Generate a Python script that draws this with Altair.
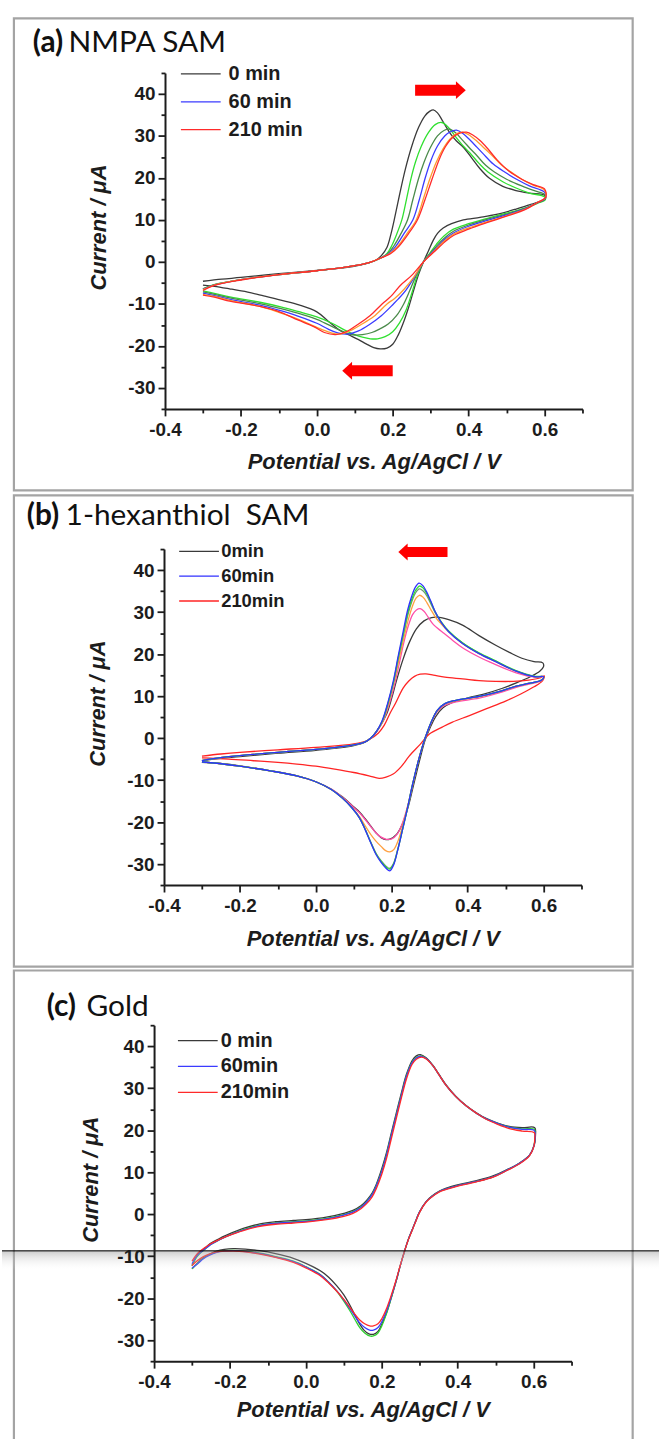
import altair as alt
import pandas as pd

# ---------------- axes ----------------
X_DOMAIN = [-0.4, 0.7]
Y_DOMAIN = [-35, 45]
X_TICKS = [-0.4, -0.3, -0.2, -0.1, 0.0, 0.1, 0.2, 0.3, 0.4, 0.5, 0.6, 0.7]
Y_TICKS = [-35, -30, -25, -20, -15, -10, -5, 0, 5, 10, 15, 20, 25, 30, 35, 40, 45]
X_TITLE = "Potential vs. Ag/AgCl / V"
Y_TITLE = "Current / \u03bcA"

# ---------------- panel (a) NMPA SAM : (E / V, I / uA) ----------------
A_NAMES = ["0 min", "trace 2", "trace 3", "60 min", "trace 5", "210 min"]
A_COLORS = ["#3a3a3a", "#2fe02f", "#4a8a4a", "#3b3bff", "#ff9a2e", "#ff2a2a"]
A_0 = [(-0.3,-4.6),(-0.25,-4.1),(-0.2,-3.7),(-0.1,-2.8),(0.0,-2.0),(0.08,-1.3),(0.13,-0.4),(0.155,0.4),(0.17,1.5),(0.185,3.5),(0.195,6.5),(0.204,10.0),(0.218,16.0),(0.233,22.0),(0.25,27.5),(0.268,32.0),(0.285,34.8),(0.298,35.9),(0.307,36.2),(0.318,35.5),(0.332,33.5),(0.35,30.8),(0.368,28.8),(0.386,27.3),(0.408,24.8),(0.429,22.3),(0.455,19.9),(0.49,18.0),(0.525,17.0),(0.56,16.4),(0.6,15.9),
       (0.602,15.0),(0.585,14.3),(0.56,13.6),(0.525,12.6),(0.473,11.3),(0.43,10.6),(0.386,10.0),(0.355,9.1),(0.333,8.1),(0.318,6.8),(0.307,5.2),(0.294,2.6),(0.281,0.0),(0.268,-3.0),(0.256,-6.5),(0.243,-10.5),(0.23,-14.0),(0.215,-17.3),(0.2,-19.6),(0.185,-20.5),(0.167,-20.7),(0.15,-20.4),(0.13,-19.5),(0.11,-18.5),(0.085,-17.4),(0.062,-16.4),(0.03,-14.1),(0.0,-11.9),(-0.045,-10.3),(-0.095,-9.1),(-0.14,-8.1),(-0.182,-7.2),(-0.23,-6.4),(-0.27,-5.8),(-0.3,-5.5)]
A_2 = [(-0.3,-6.4),(-0.27,-5.4),(-0.2,-4.2),(-0.1,-3.0),(0.0,-2.1),(0.08,-1.2),(0.14,-0.1),(0.17,1.0),(0.185,2.0),(0.197,3.8),(0.21,6.5),(0.224,10.0),(0.236,14.8),(0.248,19.8),(0.26,23.8),(0.275,27.5),(0.294,30.8),(0.312,32.7),(0.329,33.2),(0.345,32.2),(0.365,29.9),(0.385,27.7),(0.403,26.0),(0.428,23.4),(0.451,21.4),(0.49,19.1),(0.525,17.6),(0.56,16.4),(0.6,15.5),
       (0.602,14.8),(0.58,13.9),(0.55,12.9),(0.5,11.6),(0.45,10.4),(0.4,9.1),(0.36,7.8),(0.335,6.2),(0.315,4.2),(0.297,2.0),(0.281,0.0),(0.265,-3.2),(0.25,-7.5),(0.235,-11.5),(0.218,-14.5),(0.2,-16.6),(0.18,-17.8),(0.16,-18.3),(0.141,-18.3),(0.12,-17.9),(0.1,-17.3),(0.075,-16.3),(0.04,-14.6),(0.0,-13.1),(-0.05,-11.8),(-0.095,-10.7),(-0.15,-9.6),(-0.226,-8.4),(-0.27,-7.5),(-0.3,-6.9)]
A_3 = [(-0.3,-6.4),(-0.27,-5.4),(-0.2,-4.2),(-0.1,-3.0),(0.0,-2.1),(0.08,-1.2),(0.14,-0.1),(0.17,1.0),(0.188,2.0),(0.203,3.8),(0.222,6.8),(0.239,10.0),(0.253,14.8),(0.268,19.8),(0.282,23.6),(0.298,27.0),(0.318,30.0),(0.335,31.3),(0.349,31.6),(0.365,30.8),(0.385,28.9),(0.405,26.9),(0.421,25.4),(0.445,23.0),(0.468,21.4),(0.5,19.7),(0.54,18.1),(0.575,16.9),(0.6,16.1),
       (0.602,15.0),(0.58,14.0),(0.55,12.8),(0.5,11.4),(0.45,10.2),(0.4,8.8),(0.36,7.3),(0.335,5.6),(0.315,3.7),(0.297,1.8),(0.281,0.0),(0.262,-3.2),(0.245,-6.8),(0.229,-10.0),(0.21,-12.8),(0.188,-14.8),(0.167,-15.9),(0.145,-16.8),(0.12,-17.3),(0.1,-17.4),(0.08,-17.0),(0.05,-15.8),(0.02,-14.5),(0.0,-13.7),(-0.05,-12.2),(-0.1,-11.0),(-0.15,-9.9),(-0.226,-8.6),(-0.27,-7.7),(-0.3,-7.1)]
A_60 = [(-0.3,-6.5),(-0.27,-5.5),(-0.2,-4.2),(-0.1,-3.0),(0.0,-2.1),(0.08,-1.2),(0.14,-0.1),(0.17,1.0),(0.19,2.0),(0.207,3.6),(0.23,6.8),(0.253,10.0),(0.27,14.8),(0.285,19.8),(0.3,24.0),(0.318,27.6),(0.337,30.0),(0.352,31.0),(0.368,31.4),(0.385,30.6),(0.405,28.9),(0.42,27.5),(0.438,25.8),(0.465,23.3),(0.495,21.4),(0.53,19.5),(0.56,18.1),(0.6,16.6),
        (0.602,15.2),(0.58,14.1),(0.55,12.7),(0.5,11.2),(0.45,9.9),(0.4,8.5),(0.36,6.9),(0.335,5.2),(0.315,3.3),(0.297,1.6),(0.281,0.0),(0.258,-3.5),(0.235,-6.7),(0.215,-8.8),(0.202,-10.0),(0.17,-12.8),(0.137,-15.0),(0.11,-16.4),(0.08,-17.2),(0.055,-16.9),(0.03,-16.0),(0.0,-14.6),(-0.05,-12.9),(-0.1,-11.5),(-0.15,-10.3),(-0.226,-9.0),(-0.27,-8.0),(-0.3,-7.4)]
A_5 = [(-0.3,-6.6),(-0.27,-5.5),(-0.2,-4.2),(-0.1,-3.0),(0.0,-2.1),(0.08,-1.2),(0.14,-0.1),(0.17,1.0),(0.192,2.0),(0.212,3.6),(0.238,6.8),(0.262,10.0),(0.28,14.8),(0.298,19.8),(0.315,23.8),(0.333,27.0),(0.35,29.2),(0.367,30.5),(0.384,30.9),(0.4,30.3),(0.42,28.9),(0.44,27.2),(0.46,25.5),(0.485,23.2),(0.51,21.5),(0.54,19.7),(0.57,18.3),(0.6,17.1),
       (0.602,15.3),(0.58,14.1),(0.55,12.6),(0.5,11.0),(0.45,9.6),(0.4,8.1),(0.36,6.6),(0.335,4.9),(0.315,3.1),(0.297,1.5),(0.281,0.0),(0.255,-3.7),(0.23,-6.5),(0.205,-8.7),(0.185,-10.0),(0.15,-13.0),(0.115,-15.0),(0.085,-16.5),(0.06,-17.2),(0.035,-16.8),(0.0,-15.6),(-0.05,-13.6),(-0.1,-12.0),(-0.15,-10.6),(-0.226,-9.2),(-0.27,-8.2),(-0.3,-7.7)]
A_210 = [(-0.3,-6.8),(-0.27,-5.6),(-0.2,-4.3),(-0.1,-3.0),(0.0,-2.1),(0.08,-1.2),(0.14,-0.1),(0.17,1.0),(0.195,2.0),(0.215,3.6),(0.242,6.8),(0.265,10.0),(0.285,14.8),(0.304,19.8),(0.322,24.3),(0.338,27.3),(0.355,29.4),(0.375,30.6),(0.394,30.9),(0.41,30.3),(0.43,28.9),(0.45,27.0),(0.475,24.3),(0.505,21.7),(0.54,19.7),(0.57,18.4),(0.6,17.4),
         (0.603,15.4),(0.58,14.1),(0.55,12.5),(0.5,10.9),(0.45,9.4),(0.4,7.8),(0.36,6.3),(0.335,4.6),(0.315,2.9),(0.297,1.4),(0.281,0.0),(0.25,-3.2),(0.22,-5.6),(0.195,-8.2),(0.172,-10.0),(0.14,-12.8),(0.106,-15.0),(0.08,-16.5),(0.05,-17.3),(0.02,-16.8),(-0.008,-15.4),(-0.05,-13.8),(-0.095,-12.0),(-0.15,-10.6),(-0.226,-9.4),(-0.27,-8.4),(-0.3,-7.9)]

# ---------------- panel (b) 1-hexanthiol SAM ----------------
B_NAMES = ["0min", "210min", "trace 6", "trace 5", "trace 4", "trace 3", "60min"]
B_COLORS = ["#3a3a3a", "#ff2424", "#ff4fa8", "#ffa040", "#6f9a6f", "#2fe02f", "#3030ff"]
B_0 = [(-0.3,-5.5),(-0.27,-5.0),(-0.2,-4.4),(-0.1,-3.6),(0.0,-2.9),(0.1,-1.8),(0.13,-1.0),(0.145,0.0),(0.165,2.2),(0.186,5.6),(0.2,9.5),(0.212,13.5),(0.23,18.8),(0.247,22.9),(0.265,26.0),(0.285,27.9),(0.305,28.7),(0.32,28.8),(0.35,28.2),(0.3865,26.9),(0.43,24.4),(0.474,22.1),(0.51,20.4),(0.543,19.0),(0.575,18.2),(0.598,17.9),
       (0.6,17.0),(0.59,15.9),(0.565,14.6),(0.53,13.2),(0.49,11.8),(0.44,10.4),(0.403,9.6),(0.36,8.5),(0.335,7.2),(0.315,5.0),(0.3,2.2),(0.288,-0.5),(0.273,-5.5),(0.258,-11.0),(0.243,-16.5),(0.228,-20.5),(0.212,-23.0),(0.197,-24.0),(0.185,-24.2),(0.172,-23.7),(0.159,-22.6),(0.145,-21.0),(0.13,-19.2),(0.115,-17.6),(0.095,-16.0),(0.07,-14.0),(0.04,-12.2),(0.0,-10.4),(-0.05,-9.0),(-0.12,-7.8),(-0.2,-6.6),(-0.26,-6.0),(-0.3,-5.8)]
B_60 = [(-0.3,-5.4),(-0.27,-4.9),(-0.2,-4.2),(-0.1,-3.4),(0.0,-2.7),(0.1,-1.6),(0.13,-0.9),(0.145,0.0),(0.16,1.6),(0.175,4.2),(0.19,8.5),(0.204,13.5),(0.217,19.5),(0.23,25.3),(0.242,30.5),(0.252,33.6),(0.262,35.9),(0.272,36.9),(0.282,36.3),(0.292,34.8),(0.302,32.8),(0.315,30.0),(0.33,27.6),(0.35,25.3),(0.3865,22.5),(0.43,20.1),(0.474,18.2),(0.526,16.0),(0.578,14.6),(0.6,14.6),
        (0.595,13.8),(0.56,13.0),(0.526,12.3),(0.48,11.0),(0.43,9.9),(0.369,9.0),(0.34,8.2),(0.32,6.6),(0.305,4.0),(0.294,1.5),(0.285,-0.8),(0.27,-5.5),(0.255,-11.0),(0.242,-16.5),(0.228,-22.0),(0.215,-27.0),(0.205,-30.2),(0.195,-31.6),(0.185,-31.0),(0.172,-29.6),(0.159,-27.8),(0.145,-25.0),(0.13,-21.8),(0.115,-19.0),(0.095,-16.6),(0.07,-14.3),(0.04,-12.2),(0.0,-10.4),(-0.05,-9.0),(-0.12,-7.8),(-0.2,-6.7),(-0.26,-6.0),(-0.3,-5.7)]
B_3 = [(-0.3,-5.4),(-0.27,-4.9),(-0.2,-4.2),(-0.1,-3.4),(0.0,-2.7),(0.1,-1.6),(0.13,-0.9),(0.145,0.0),(0.16,1.6),(0.176,4.2),(0.191,8.5),(0.205,13.5),(0.218,19.5),(0.231,25.0),(0.243,30.0),(0.253,33.1),(0.263,35.2),(0.273,36.2),(0.283,35.7),(0.293,34.3),(0.303,32.4),(0.316,29.8),(0.331,27.6),(0.35,25.5),(0.3865,22.7),(0.43,20.3),(0.474,18.4),(0.526,16.1),(0.578,14.7),(0.6,14.6),
       (0.595,13.8),(0.56,13.0),(0.526,12.3),(0.48,11.0),(0.43,9.9),(0.369,9.0),(0.34,8.2),(0.32,6.6),(0.305,4.0),(0.294,1.5),(0.285,-0.8),(0.27,-5.5),(0.255,-11.0),(0.242,-16.5),(0.228,-22.0),(0.215,-26.9),(0.205,-30.0),(0.195,-31.2),(0.185,-30.7),(0.172,-29.4),(0.159,-27.6),(0.145,-24.9),(0.13,-21.7),(0.115,-19.0),(0.095,-16.6),(0.07,-14.3),(0.04,-12.2),(0.0,-10.4),(-0.05,-9.0),(-0.12,-7.8),(-0.2,-6.7),(-0.26,-6.0),(-0.3,-5.7)]
B_4 = [(-0.3,-5.4),(-0.27,-4.9),(-0.2,-4.2),(-0.1,-3.4),(0.0,-2.7),(0.1,-1.6),(0.13,-0.9),(0.145,0.0),(0.16,1.6),(0.176,4.2),(0.191,8.5),(0.205,13.4),(0.218,19.3),(0.231,24.7),(0.243,29.5),(0.253,32.5),(0.263,34.6),(0.273,35.5),(0.283,35.0),(0.293,33.8),(0.303,32.0),(0.316,29.6),(0.331,27.5),(0.35,25.4),(0.3865,22.6),(0.43,20.2),(0.474,18.3),(0.526,16.0),(0.578,14.6),(0.6,14.6),
       (0.595,13.8),(0.56,13.0),(0.526,12.3),(0.48,11.0),(0.43,9.9),(0.369,9.0),(0.34,8.2),(0.32,6.6),(0.305,4.0),(0.294,1.5),(0.285,-0.8),(0.27,-5.5),(0.255,-11.0),(0.242,-16.5),(0.228,-22.0),(0.215,-26.8),(0.205,-29.8),(0.195,-31.0),(0.185,-30.5),(0.172,-29.2),(0.159,-27.5),(0.145,-24.8),(0.13,-21.7),(0.115,-19.0),(0.095,-16.6),(0.07,-14.3),(0.04,-12.2),(0.0,-10.4),(-0.05,-9.0),(-0.12,-7.8),(-0.2,-6.7),(-0.26,-6.0),(-0.3,-5.7)]
B_5 = [(-0.3,-5.4),(-0.27,-4.9),(-0.2,-4.2),(-0.1,-3.4),(0.0,-2.7),(0.1,-1.6),(0.13,-0.9),(0.145,0.0),(0.16,1.6),(0.177,4.2),(0.192,8.4),(0.206,13.3),(0.22,19.0),(0.233,24.2),(0.245,28.6),(0.255,31.5),(0.264,33.3),(0.273,34.0),(0.283,33.5),(0.293,32.2),(0.303,30.6),(0.316,28.7),(0.331,27.1),(0.35,25.3),(0.3865,22.5),(0.43,20.1),(0.474,18.2),(0.526,16.0),(0.578,14.6),(0.6,14.6),
       (0.595,13.8),(0.56,13.0),(0.526,12.3),(0.48,11.0),(0.43,9.8),(0.369,8.9),(0.34,8.1),(0.32,6.5),(0.305,3.9),(0.294,1.4),(0.285,-0.8),(0.27,-5.5),(0.256,-10.8),(0.243,-16.0),(0.23,-20.5),(0.217,-24.4),(0.206,-26.5),(0.195,-27.1),(0.184,-26.8),(0.172,-25.8),(0.159,-24.6),(0.145,-23.0),(0.13,-20.9),(0.115,-18.7),(0.095,-16.5),(0.07,-14.3),(0.04,-12.2),(0.0,-10.4),(-0.05,-9.0),(-0.12,-7.8),(-0.2,-6.7),(-0.26,-6.0),(-0.3,-5.7)]
B_6 = [(-0.3,-5.4),(-0.27,-4.9),(-0.2,-4.2),(-0.1,-3.4),(0.0,-2.7),(0.1,-1.6),(0.13,-0.9),(0.145,0.0),(0.161,1.6),(0.178,4.2),(0.193,8.0),(0.207,12.6),(0.22,17.8),(0.232,22.8),(0.244,26.8),(0.255,29.4),(0.265,30.5),(0.275,30.8),(0.285,30.2),(0.296,28.8),(0.31,27.0),(0.334,25.2),(0.36,23.3),(0.3865,21.5),(0.43,19.3),(0.474,17.5),(0.526,15.6),(0.578,14.5),(0.6,14.6),
       (0.595,13.7),(0.56,12.8),(0.526,12.0),(0.48,10.7),(0.43,9.5),(0.369,8.6),(0.34,7.8),(0.32,6.3),(0.305,3.8),(0.294,1.4),(0.285,-0.8),(0.27,-5.5),(0.257,-10.5),(0.244,-15.5),(0.23,-19.8),(0.215,-22.8),(0.2,-24.0),(0.186,-24.1),(0.172,-23.6),(0.159,-22.6),(0.145,-21.1),(0.13,-19.4),(0.115,-17.8),(0.095,-16.1),(0.07,-14.1),(0.04,-12.1),(0.0,-10.4),(-0.05,-9.0),(-0.12,-7.8),(-0.2,-6.7),(-0.26,-6.0),(-0.3,-5.7)]
B_210 = [(-0.3,-4.3),(-0.25,-3.8),(-0.2,-3.4),(-0.1,-2.8),(0.0,-2.2),(0.1,-1.4),(0.14,-0.4),(0.165,1.2),(0.18,3.0),(0.195,5.8),(0.21,8.3),(0.23,11.9),(0.245,13.6),(0.26,14.7),(0.275,15.2),(0.29,15.3),(0.31,15.0),(0.34,14.5),(0.387,14.1),(0.43,13.7),(0.474,13.5),(0.52,13.5),(0.561,13.8),(0.59,14.3),(0.602,14.8),
         (0.597,13.6),(0.575,12.2),(0.54,10.5),(0.5,8.8),(0.45,7.0),(0.403,5.3),(0.36,3.8),(0.333,2.6),(0.3,1.0),(0.275,-1.5),(0.246,-4.3),(0.225,-6.8),(0.205,-8.5),(0.185,-9.3),(0.167,-9.6),(0.14,-9.0),(0.1,-8.2),(0.05,-7.4),(0.0,-6.7),(-0.05,-6.2),(-0.1,-5.8),(-0.164,-5.4),(-0.23,-5.0),(-0.3,-4.7)]

# ---------------- panel (c) Gold ----------------
C_NAMES = ["0 min", "trace 2", "60min", "210min"]
C_COLORS = ["#3a3a3a", "#2fd02f", "#3b3bff", "#ff2a2a"]
C_0 = [(-0.3,-12.3),(-0.285,-9.6),(-0.265,-8.0),(-0.252,-7.0),(-0.23,-5.9),(-0.209,-5.0),(-0.165,-3.4),(-0.121,-2.3),(-0.08,-1.8),(-0.033,-1.5),(0.0,-1.3),(0.054,-0.7),(0.1,0.2),(0.124,0.9),(0.145,2.0),(0.16,3.3),(0.175,5.1),(0.186,7.2),(0.2,10.8),(0.212,14.5),(0.225,19.3),(0.238,24.0),(0.252,29.0),(0.265,33.3),(0.28,36.6),(0.291,37.7),(0.302,38.0),(0.316,37.3),(0.335,35.4),(0.35,33.4),(0.37,30.7),(0.395,28.1),(0.422,25.9),(0.45,24.1),(0.475,22.8),(0.505,21.7),(0.536,20.9),(0.57,20.6),(0.603,20.6),
       (0.605,18.8),(0.602,16.5),(0.59,14.1),(0.563,12.2),(0.53,10.6),(0.493,9.1),(0.45,8.0),(0.405,7.1),(0.37,6.2),(0.352,5.5),(0.332,4.3),(0.317,3.0),(0.3,0.6),(0.29,-1.5),(0.282,-3.3),(0.27,-6.0),(0.26,-8.8),(0.248,-12.5),(0.238,-15.9),(0.225,-19.9),(0.212,-23.6),(0.2,-26.2),(0.19,-27.9),(0.178,-28.6),(0.166,-28.5),(0.153,-27.6),(0.14,-25.9),(0.128,-23.8),(0.115,-21.5),(0.1,-19.2),(0.081,-17.0),(0.06,-15.0),(0.037,-13.4),(0.0,-11.7),(-0.033,-10.5),(-0.08,-9.4),(-0.121,-8.7),(-0.16,-8.3),(-0.191,-8.2),(-0.215,-8.4),(-0.235,-8.8),(-0.255,-9.6),(-0.27,-10.4),(-0.285,-11.6),(-0.3,-13.0)]
C_2 = [(-0.3,-12.2),(-0.285,-9.9),(-0.265,-8.3),(-0.252,-7.3),(-0.23,-6.2),(-0.209,-5.3),(-0.165,-3.7),(-0.121,-2.6),(-0.08,-2.1),(-0.033,-1.8),(0.0,-1.6),(0.054,-1.0),(0.1,-0.1),(0.124,0.6),(0.145,1.7),(0.16,3.0),(0.175,4.8),(0.186,6.9),(0.2,10.3),(0.212,14.0),(0.225,18.8),(0.238,23.5),(0.252,28.5),(0.265,32.9),(0.28,36.2),(0.291,37.3),(0.304,37.7),(0.318,37.0),(0.335,35.3),(0.35,33.3),(0.37,30.6),(0.395,28.0),(0.422,25.8),(0.45,24.0),(0.475,22.7),(0.505,21.6),(0.536,20.7),(0.57,20.3),(0.602,20.2),
       (0.604,18.5),(0.601,16.4),(0.589,14.0),(0.563,12.1),(0.53,10.5),(0.493,8.9),(0.45,7.8),(0.405,6.9),(0.37,6.0),(0.352,5.4),(0.332,4.2),(0.317,3.0),(0.3,0.6),(0.29,-1.5),(0.282,-3.3),(0.27,-6.0),(0.26,-8.8),(0.248,-12.5),(0.238,-15.9),(0.225,-19.9),(0.212,-23.8),(0.2,-26.6),(0.19,-28.3),(0.178,-29.0),(0.168,-29.0),(0.155,-28.3),(0.142,-27.0),(0.13,-25.2),(0.116,-23.0),(0.1,-20.7),(0.081,-18.3),(0.06,-16.2),(0.037,-14.3),(0.0,-12.5),(-0.033,-11.2),(-0.08,-10.1),(-0.121,-9.3),(-0.16,-8.8),(-0.191,-8.6),(-0.215,-8.7),(-0.235,-9.0),(-0.255,-9.7),(-0.27,-10.5),(-0.285,-11.7),(-0.3,-13.0)]
C_60 = [(-0.3,-11.8),(-0.285,-9.7),(-0.265,-8.2),(-0.252,-7.3),(-0.23,-6.2),(-0.209,-5.3),(-0.165,-3.8),(-0.121,-2.7),(-0.08,-2.2),(-0.033,-1.9),(0.0,-1.7),(0.054,-1.1),(0.1,-0.2),(0.124,0.5),(0.145,1.6),(0.16,2.9),(0.175,4.7),(0.186,6.8),(0.2,10.2),(0.212,13.9),(0.225,18.7),(0.238,23.4),(0.252,28.4),(0.265,32.8),(0.28,36.1),(0.291,37.2),(0.304,37.6),(0.318,37.0),(0.335,35.3),(0.35,33.3),(0.37,30.6),(0.395,28.0),(0.422,25.8),(0.45,24.0),(0.475,22.7),(0.505,21.6),(0.536,20.7),(0.57,20.2),(0.602,19.9),
        (0.604,18.3),(0.601,16.3),(0.589,14.0),(0.563,12.1),(0.53,10.5),(0.493,8.9),(0.45,7.8),(0.405,6.9),(0.37,6.0),(0.352,5.4),(0.332,4.2),(0.317,3.0),(0.3,0.6),(0.29,-1.5),(0.282,-3.3),(0.27,-6.0),(0.26,-8.8),(0.248,-12.5),(0.238,-15.8),(0.225,-19.7),(0.212,-23.2),(0.2,-25.6),(0.19,-27.0),(0.178,-27.6),(0.168,-27.6),(0.155,-27.0),(0.142,-25.9),(0.13,-24.4),(0.116,-22.5),(0.1,-20.4),(0.081,-18.2),(0.06,-16.2),(0.037,-14.4),(0.0,-12.6),(-0.033,-11.3),(-0.08,-10.2),(-0.121,-9.4),(-0.16,-8.9),(-0.191,-8.7),(-0.215,-8.8),(-0.235,-9.1),(-0.255,-9.8),(-0.27,-10.6),(-0.285,-11.8),(-0.3,-12.8)]
C_210 = [(-0.3,-11.2),(-0.285,-9.3),(-0.265,-7.9),(-0.252,-7.1),(-0.23,-6.1),(-0.209,-5.3),(-0.165,-3.9),(-0.121,-2.9),(-0.08,-2.4),(-0.033,-2.1),(0.0,-1.9),(0.054,-1.3),(0.1,-0.5),(0.124,0.2),(0.145,1.3),(0.16,2.5),(0.175,4.2),(0.186,6.2),(0.2,9.5),(0.212,13.1),(0.225,17.9),(0.238,22.7),(0.252,27.8),(0.265,32.2),(0.28,35.7),(0.291,36.9),(0.305,37.4),(0.318,36.9),(0.335,35.3),(0.35,33.3),(0.37,30.6),(0.395,28.0),(0.422,25.8),(0.45,24.0),(0.475,22.6),(0.505,21.4),(0.536,20.4),(0.57,19.8),(0.602,19.4),
         (0.603,18.0),(0.601,16.2),(0.589,13.9),(0.563,12.0),(0.53,10.4),(0.493,8.8),(0.45,7.7),(0.405,6.8),(0.37,5.9),(0.352,5.3),(0.332,4.1),(0.317,2.9),(0.3,0.5),(0.29,-1.6),(0.282,-3.4),(0.27,-6.1),(0.26,-8.8),(0.248,-12.4),(0.238,-15.6),(0.225,-19.3),(0.212,-22.6),(0.2,-24.9),(0.19,-26.1),(0.178,-26.6),(0.168,-26.6),(0.155,-26.1),(0.142,-25.2),(0.13,-23.9),(0.116,-22.2),(0.1,-20.3),(0.081,-18.3),(0.06,-16.4),(0.037,-14.6),(0.0,-12.8),(-0.033,-11.5),(-0.08,-10.3),(-0.121,-9.5),(-0.16,-9.0),(-0.191,-8.8),(-0.215,-8.8),(-0.235,-9.0),(-0.255,-9.5),(-0.27,-10.1),(-0.285,-11.0),(-0.3,-12.2)]

# ---------------- annotation arrows (E / V, I / uA) ----------------
ARROWS_A = [{"x0": 0.259, "x1": 0.372, "tip": 0.3795, "y": 40.9, "dir": "right"},
            {"x0": 0.087, "x1": 0.200, "tip": 0.0800, "y": -25.9, "dir": "left"}]
ARROWS_B = [{"x0": 0.236, "x1": 0.347, "tip": 0.2297, "y": 44.3, "dir": "left"}]

# ---------------- styling ----------------
W, H = 420, 338
FONT = "Liberation Sans"
TFONT = "Lato"
INK = "#1c1c1c"
RED = "#ff0000"
BOX = "#a4a4a4"
X_MAJOR = "abs(round(datum.value * 10)) % 2 == 0"
Y_MAJOR = "datum.value % 10 == 0"
X_LABELS = X_MAJOR + " ? (datum.value < 0 ? '-' : '') + format(abs(datum.value), '.1f') : ''"
Y_LABELS = Y_MAJOR + " ? (datum.value < 0 ? '-' : '') + abs(datum.value) : ''"
HEAD_R = "M-0.55,-1L0.55,0L-0.55,1Z"
HEAD_L = "M0.55,-1L-0.55,0L0.55,1Z"
ONE = pd.DataFrame({"k": [0]})


def curves_df(names, curves):
    rows = []
    for name, pts in zip(names, curves):
        for i, (e, c) in enumerate(pts):
            rows.append({"series": name, "E": e, "I": c, "k": i})
    return pd.DataFrame(rows)


def panel(df, names, colors, widths, leg_vals, leg, xoff, xt, yt, titles, box, arrows,
          head_size=324, body_w=11, background=False, artifact=False):
    xs = alt.Scale(domain=X_DOMAIN, range=[xoff, W + xoff], nice=False, zero=False)
    ys = alt.Scale(domain=Y_DOMAIN, nice=False, zero=False)
    common = dict(domainColor=INK, domainWidth=2, tickColor=INK, tickWidth=1.8, grid=False,
                  labelFont=FONT, labelFontWeight="bold", labelFontSize=19, labelColor=INK,
                  labelOverlap=False, titleFont=FONT, titleFontWeight="bold", titleFontStyle="italic",
                  titleFontSize=22, titleColor=INK, titleAlign="center", titleBaseline="middle", zindex=1)
    xaxis = alt.Axis(values=X_TICKS, labelExpr=X_LABELS, labelFlush=False, labelPadding=5,
                     tickSize={"condition": {"test": X_MAJOR, "value": 7}, "value": 4},
                     title=X_TITLE, titleX=xt[0], titleY=xt[1], **common)
    yaxis = alt.Axis(values=Y_TICKS, labelExpr=Y_LABELS, labelPadding=3, offset=-xoff,
                     tickSize={"condition": {"test": Y_MAJOR, "value": 7}, "value": 4},
                     title=Y_TITLE, titleX=yt[0], titleY=yt[1], titleAngle=270, **common)
    layers = []
    if background:
        layers.append(alt.Chart(ONE).mark_rect(fill="white").encode(
            x=alt.value(-164), x2=alt.value(497), y=alt.value(-68), y2=alt.value(1371)))
    layers.append(alt.Chart(ONE).mark_rect(fill="transparent", stroke=BOX, strokeWidth=2.2).encode(
        x=alt.value(box[0]), x2=alt.value(box[1]), y=alt.value(box[2]), y2=alt.value(box[3])))
    layers.append(alt.Chart(df).mark_line(interpolate="catmull-rom").encode(
        x=alt.X("E:Q", scale=xs, axis=xaxis),
        y=alt.Y("I:Q", scale=ys, axis=yaxis),
        color=alt.Color("series:N", scale=alt.Scale(domain=names, range=colors),
                        legend=alt.Legend(values=leg_vals, orient="none", legendX=leg["x"], legendY=leg["y"],
                                          direction="vertical", title=None, padding=0,
                                          symbolType="M-4,0L4,0", symbolSize=100, symbolStrokeWidth=1.6,
                                          labelFont=FONT, labelFontWeight="bold", labelFontSize=leg["fs"],
                                          labelColor=INK, labelOffset=leg["lo"], rowPadding=leg["rp"],
                                          labelLimit=300)),
        strokeWidth=alt.StrokeWidth("series:N", scale=alt.Scale(domain=names, range=widths), legend=None),
        order="k:Q",
    ))
    for a in arrows:
        adf = pd.DataFrame([a])
        layers.append(alt.Chart(adf).mark_rule(color=RED, strokeWidth=body_w, strokeCap="butt").encode(
            x=alt.X("x0:Q", scale=xs, axis=xaxis), x2="x1:Q", y=alt.Y("y:Q", scale=ys, axis=yaxis)))
        layers.append(alt.Chart(adf).mark_point(shape=HEAD_R if a["dir"] == "right" else HEAD_L,
                                                size=head_size, filled=True, color=RED, opacity=1,
                                                strokeWidth=0).encode(
            x=alt.X("tip:Q", scale=xs, axis=xaxis), y=alt.Y("y:Q", scale=ys, axis=yaxis)))
    for t in titles:
        layers.append(alt.Chart(ONE).mark_text(text=t["text"], font=TFONT, fontSize=t["fs"],
                                               fontWeight=t["weight"], align="left", baseline="alphabetic",
                                               color="#111111").encode(
            x=alt.value(t["x"]), y=alt.value(t["y"])))
    if artifact:
        layers.append(alt.Chart(ONE).mark_rect(fill=alt.Gradient(
            gradient="linear", x1=0, x2=0, y1=0, y2=1,
            stops=[alt.GradientStop(color="rgba(150,150,150,0.45)", offset=0),
                   alt.GradientStop(color="rgba(255,255,255,0)", offset=1)])).encode(
            x=alt.value(-164), x2=alt.value(497), y=alt.value(228), y2=alt.value(247)))
        layers.append(alt.Chart(ONE).mark_rule(color="#111111", strokeWidth=1.4).encode(
            x=alt.value(-164), x2=alt.value(497), y=alt.value(227)))
    return alt.layer(*layers).properties(width=W, height=H)


df_a = curves_df(A_NAMES, [A_0, A_2, A_3, A_60, A_5, A_210])
df_b = curves_df(B_NAMES, [B_0, B_210, B_6, B_5, B_4, B_3, B_60])
df_c = curves_df(C_NAMES, [C_0, C_2, C_60, C_210])

pa = panel(df_a, A_NAMES, A_COLORS, [1.3, 1.3, 1.3, 1.3, 1.4, 2.6], ["0 min", "60 min", "210 min"],
           {"x": 26, "y": -9, "fs": 20, "lo": 18, "rp": 8}, 0, (210, 53), (-67, 155),
           [{"text": "(a)", "weight": "bold", "x": -133, "y": -21, "fs": 30},
            {"text": "NMPA SAM", "weight": "normal", "x": -97, "y": -21, "fs": 30}],
           (-152, 470.5, -55, 420), ARROWS_A, background=True)
pb = panel(df_b, B_NAMES, B_COLORS, [1.3] * 7, ["0min", "60min", "210min"],
           {"x": 25, "y": -7, "fs": 18.5, "lo": 13, "rp": 6}, -1, (209, 54), (-67, 155),
           [{"text": "(b)", "weight": "bold", "x": -139, "y": -24, "fs": 30},
            {"text": "1-hexanthiol\u00a0\u00a0SAM", "weight": "normal", "x": -100, "y": -24, "fs": 30}],
           (-152, 470.5, -54, 420), ARROWS_B, head_size=290, body_w=10)
pc = panel(df_c, C_NAMES, C_COLORS, [1.3] * 4, ["0 min", "60min", "210min"],
           {"x": 23, "y": 5.5, "fs": 20, "lo": 13, "rp": 6}, -11, (199, 49), (-64, 155),
           [{"text": "(c)", "weight": "bold", "x": -119, "y": -9, "fs": 30},
            {"text": "Gold", "weight": "normal", "x": -79, "y": -9, "fs": 30}],
           (-152, 470.5, -55, 425), [], artifact=True)

chart = alt.vconcat(pa, pb, pc, spacing=141, bounds="flush").resolve_scale(
    x="independent", y="independent", color="independent", strokeWidth="independent"
).resolve_legend(color="independent").properties(padding=0, background="white").configure_view(
    stroke="transparent")

chart.save("out.html", embed_options={"renderer": "svg", "actions": False})
